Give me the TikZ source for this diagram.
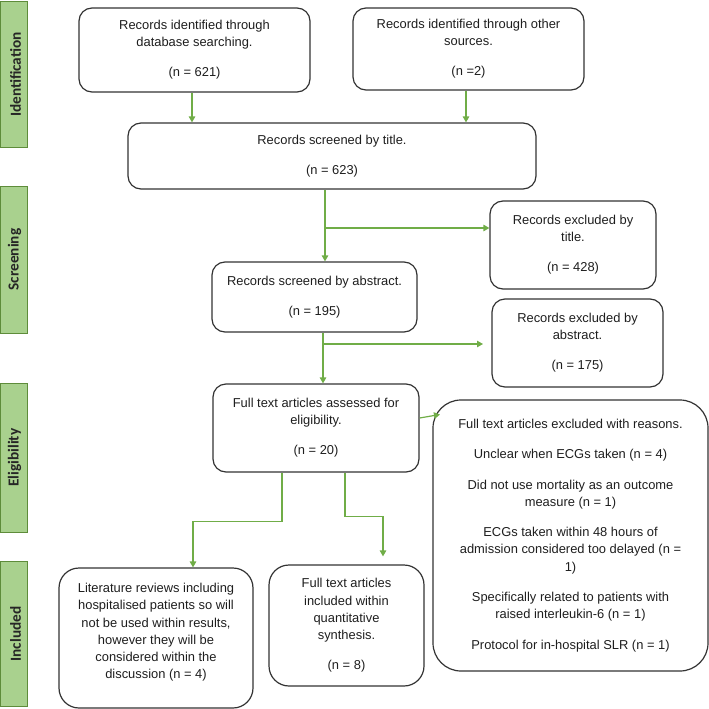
\documentclass[tikz,border=0pt]{standalone}
\usepackage{fontspec}
\setmainfont{Liberation Sans}
\newfontfamily\sidefont{Carlito}
\usetikzlibrary{arrows.meta}
\definecolor{arrowgreen}{HTML}{70AD47}
\definecolor{sidefill}{HTML}{A9D18E}
\definecolor{sidedraw}{HTML}{5E8C3A}
\definecolor{boxdraw}{HTML}{333333}
\definecolor{txt}{HTML}{1E1E1E}
\begin{document}
\begin{tikzpicture}[x=1pt,y=-1pt,
  box/.style={draw=boxdraw, line width=1.2pt, rounded corners=#1, align=center,
    inner sep=0pt, text=txt, font={\fontsize{12.9}{17.3}\selectfont}},
  box/.default=13pt,
  side/.style={draw=sidedraw, fill=sidefill, line width=1pt, inner sep=0pt},
  sidetext/.style={font={\sidefont\bfseries\fontsize{15.3}{18}\selectfont}, text=black!85, rotate=90, inner sep=0pt},
  flow/.style={draw=arrowgreen, line width=1.2pt, -{Triangle[length=6pt,width=6.5pt]}}
]
\useasboundingbox (0,0) rectangle (709,709);

% side bars
\node[side, minimum width=27pt, minimum height=145pt] (s1) at (13.5,74.5) {};
\node[sidetext] (t1) at ([xshift=2pt]s1.center) {Identification};
\node[side, minimum width=27pt, minimum height=147pt] (s2) at (13.5,259.5) {};
\node[sidetext] (t2) at ([xshift=1pt]s2.center) {Screening};
\node[side, minimum width=27pt, minimum height=149pt] (s3) at (13.5,457.5) {};
\node[sidetext] (t3) at ([xshift=1pt]s3.center) {Eligibility};
\node[side, minimum width=27pt, minimum height=145pt] (s4) at (13.5,634) {};
\node[sidetext] (t4) at ([xshift=2pt]s4.center) {Included};

% boxes
\node[box, minimum width=231pt, minimum height=84pt] (b1) at (194.5,50)
  {Records identified through\\database searching.\\[12.7pt](n = 621)};
\node[box, minimum width=231pt, minimum height=82pt] (b2) at (468.5,49)
  {Records identified through other\\sources.\\[12.7pt](n =2)};
\node[box, minimum width=408pt, minimum height=66pt] (b3) at (332,156)
  {Records screened by title.\\[12.7pt](n = 623)};
\node[box, minimum width=166pt, minimum height=88pt] (b4) at (573,245)
  {Records excluded by\\title.\\[12.7pt](n = 428)};
\node[box, minimum width=205pt, minimum height=70pt] (b5) at (314.5,297)
  {Records screened by abstract.\\[12.7pt](n = 195)};
\node[box, minimum width=171pt, minimum height=88pt] (b6) at (577.5,343)
  {Records excluded by\\abstract.\\[12.7pt](n = 175)};
\node[box, minimum width=206pt, minimum height=88pt] (b7) at (316,428)
  {Full text articles assessed for\\eligibility.\\[12.7pt](n = 20)};
\node[box=28pt, minimum width=275pt, minimum height=271pt] (b8) at (570.5,535.5)
  {Full text articles excluded with reasons.\\[13pt]Unclear when ECGs taken (n = 4)\\[13pt]Did not use mortality as an outcome\\measure (n = 1)\\[13pt]ECGs taken within 48 hours of\\admission considered too delayed (n =\\1)\\[13pt]Specifically related to patients with\\raised interleukin-6 (n = 1)\\[13pt]Protocol for in-hospital SLR (n = 1)};
\node[box=20pt, minimum width=194pt, minimum height=140pt] (b9) at (156,638)
  {Literature reviews including\\hospitalised patients so will\\not be used within results,\\however they will be\\considered within the\\discussion (n = 4)\\[-3.3pt]\mbox{}};
\node[box=20pt, minimum width=155pt, minimum height=121pt] (b10) at (346.5,625.5)
  {Full text articles\\included within\\quantitative\\synthesis.\\[12.7pt](n = 8)};

% connectors
\draw[flow] ([xshift=-2.5pt]b1.south) -- ([xshift=-2.5pt]b1.south |- b3.north);
\draw[flow] ([xshift=-2.5pt]b2.south) -- ([xshift=-2.5pt]b2.south |- b3.north);
\draw[flow] ([xshift=-7pt]b3.south) -- ([xshift=-7pt]b3.south |- b5.north);
\coordinate (j1) at (325,228);
\draw[flow] (j1) -- (j1 -| b4.west);
\draw[flow] ([xshift=8.5pt]b5.south) -- ([xshift=8.5pt]b5.south |- b7.north);
\coordinate (j2) at (323,344);
\coordinate (e2) at (483,344);
\draw[flow] (j2) -- (e2);
\coordinate (e3) at (440,414.5);
\draw[flow] ([yshift=10pt]b7.east) -- (e3);
\draw[flow] ([xshift=-34pt]b7.south) -- ++(0,49) -| ([xshift=37pt]b9.north);
\draw[flow] ([xshift=29pt]b7.south) -- ++(0,44) -| ([xshift=36.5pt,yshift=8pt]b10.north);
\end{tikzpicture}
\end{document}
